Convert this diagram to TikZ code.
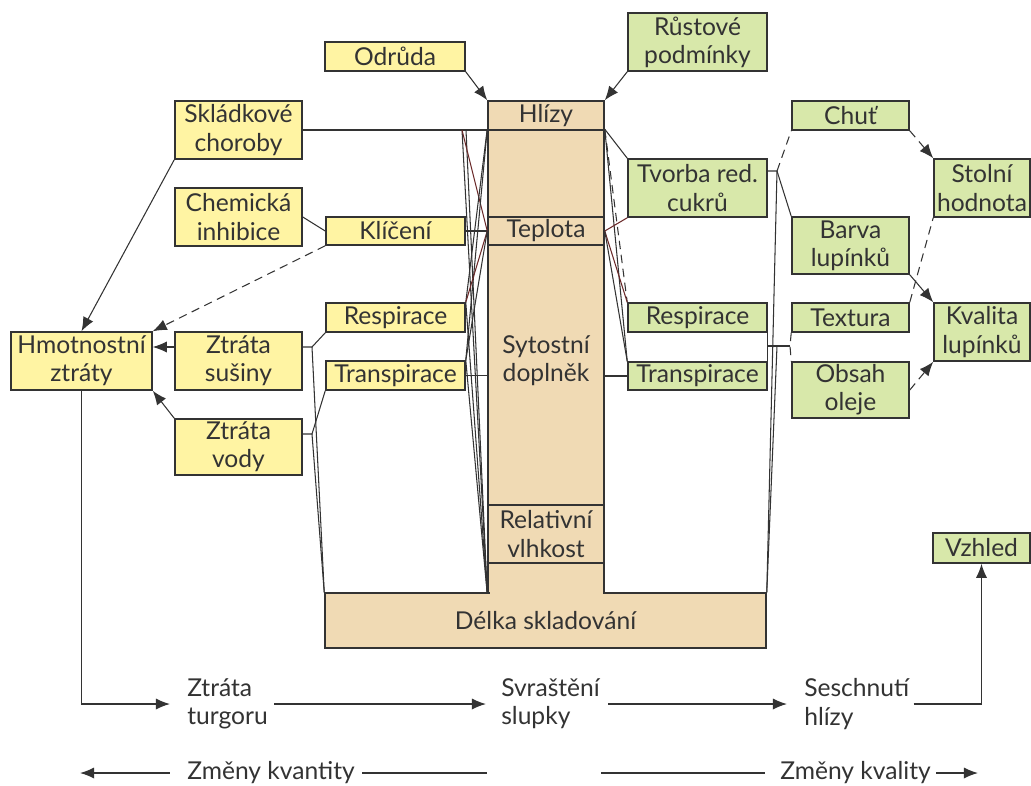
\documentclass[tikz,border=0pt]{standalone}
\usepackage{fontspec}
\setmainfont{Lato}
\usetikzlibrary{arrows.meta,positioning,calc}
\definecolor{zluta}{HTML}{FFF4A3}
\definecolor{zelena}{HTML}{D8E8AA}
\definecolor{hneda}{HTML}{F0DAB4}
\definecolor{okraj}{HTML}{333333}
\definecolor{cervena}{HTML}{6B2A2A}

\begin{document}
\begin{tikzpicture}[x=0.025cm,y=-0.025cm,
    every node/.style={font=\fontsize{17.5}{20}\selectfont,text=okraj},
    box/.style={draw=okraj,line width=1.1pt,inner sep=0pt,align=center},
    wh/.style 2 args={minimum width=#1*0.025cm,minimum height=#2*0.025cm},
    yel/.style={box,fill=zluta},
    zel/.style={box,fill=zelena},
    hn/.style={box,fill=hneda},
    spoj/.style={draw=okraj,line width=0.75pt},
    carky/.style={dash pattern=on 6pt off 4pt},
    sipka/.style={-{Latex[length=10pt,width=8pt]}},
    dolni/.style={draw=okraj,line width=1pt},
    popis/.style={anchor=west,align=left,inner sep=0pt}]
  \useasboundingbox (0,0) rectangle (1031,785);

  \node[hn,wh={116}{463}] (sloup) at (546,361.5) {};
  \node[hn,wh={441}{55}] (delka) at (545.5,620.5) {Délka skladování};
  \fill[hneda] (489.5,588) rectangle (602.5,598);
  \node[hn,wh={116}{29}] (hlizy) at (546,115.5) {Hlízy};
  \node[hn,wh={116}{28}] (teplota) at (546,231) {Teplota};
  \node[align=center] (sytost) at (546,361) {Sytostní\\doplněk};
  \node[hn,wh={116}{58}] (vlhkost) at (546,534) {Relativní\\vlhkost};

  \node[yel,wh={140}{29}] (odruda) at (395,56.5) {Odrůda};
  \node[zel,wh={139}{58}] (rustove) at (697.5,42) {Růstové\\podmínky};

  \node[yel,wh={127}{58}] (sklad) at (238.5,130) {Skládkové\\choroby};
  \node[yel,wh={127}{58}] (chem) at (238.5,217) {Chemická\\inhibice};
  \node[yel,wh={141}{58}] (hmot) at (81.5,361) {Hmotnostní\\ztráty};
  \node[yel,wh={127}{58}] (susina) at (238.5,361) {Ztráta\\sušiny};
  \node[yel,wh={127}{56}] (voda) at (238.5,447) {Ztráta\\vody};
  \node[yel,wh={139}{28}] (kliceni) at (395.5,231) {Klíčení};
  \node[yel,wh={139}{29}] (respL) at (395.5,317.5) {Respirace};
  \node[yel,wh={139}{29}] (transL) at (395.5,375.5) {Transpirace};

  \node[zel,wh={139}{58}] (tvorba) at (697.5,188) {Tvorba red.\\cukrů};
  \node[zel,wh={139}{29}] (respR) at (697.5,317.5) {Respirace};
  \node[zel,wh={139}{28}] (transR) at (697.5,376) {Transpirace};
  \node[zel,wh={117}{29}] (chut) at (850.5,115.5) {Chuť};
  \node[zel,wh={117}{57}] (barva) at (850.5,245.5) {Barva\\lupínků};
  \node[zel,wh={117}{29}] (textura) at (850.5,317.5) {Textura};
  \node[zel,wh={117}{56}] (obsah) at (850.5,390) {Obsah\\oleje};
  \node[zel,wh={96}{58}] (stolni) at (982,188) {Stolní\\hodnota};
  \node[zel,wh={96}{58}] (kvalita) at (982,332) {Kvalita\\lupínků};
  \node[zel,wh={97}{30}] (vzhled) at (981.5,548) {Vzhled};

  \node[popis] (turgor) at (187,704) {Ztráta\\turgoru};
  \node[popis] (svrast) at (501,704) {Svraštění\\slupky};
  \node[popis] (seschn) at (804,704) {Seschnutí\\hlízy};
  \node[popis] (kvant) at (187,773) {Změny kvantity};
  \node[popis] (kval) at (780,773) {Změny kvality};

  \coordinate (kz) at (462,130);
  \coordinate (js) at (312,347);
  \coordinate (jv) at (312,434);
  \coordinate (jt) at (777,171);
  \coordinate (jr) at (777,346);
  \coordinate (jd) at (790,346);
  \coordinate (kl) at (80,773);
  \coordinate (kr) at (487,773);
  \coordinate (ql) at (601,773);
  \coordinate (qr) at (978,773);

  \draw[spoj,sipka] (odruda.south east) -- (hlizy.north west);
  \draw[spoj,sipka] (rustove.south west) -- (hlizy.north east);

  \draw[spoj] (sklad.east) -- (sklad.east -| sloup.west);
  \draw[spoj,sipka] (sklad.south west) -- (hmot.north);
  \draw[spoj] (chem.east) -- (kliceni.west);
  \draw[spoj,carky,sipka] (kliceni.south west) -- (hmot.north east);
  \draw[spoj,sipka] ([yshift=0.35cm]susina.west) -- ([yshift=0.35cm]hmot.east);
  \draw[spoj,sipka] (voda.north west) -- (hmot.south east);
  \draw[spoj] ([yshift=0.35cm]susina.east) -- (js) -- (respL.south west);
  \draw[spoj] (js) -- (delka.north west);
  \draw[spoj] ([yshift=0.325cm]voda.east) -- (jv) -- (transL.south west);
  \draw[spoj] (jv) -- (delka.north west);

  \draw[spoj] (kz) -- (sloup.south west);
  \draw[spoj] ([xshift=0.1cm]kz) -- (sloup.south west);
  \draw[spoj,draw=cervena] (kz) -- (teplota.west);
  \draw[spoj] (sloup.north west) -- (respL.north east);
  \draw[spoj] (sloup.north west) -- (transL.north east);
  \draw[spoj] (kliceni.east) -- (teplota.west);
  \draw[spoj,draw=cervena] (teplota.west) -- (respL.north east);
  \draw[spoj] (teplota.west) -- (transL.north east);
  \draw[spoj] (respL.north east) -- (sloup.south west);
  \draw[spoj] (transL.north east) -- (sloup.south west);
  \draw[spoj] (transL.east) -- (transL.east -| sloup.west);

  \draw[spoj] (sloup.north east) -- (tvorba.north west);
  \draw[spoj,carky] (sloup.north east) -- (respR.north west);
  \draw[spoj] (sloup.north east) -- (transR.north west);
  \draw[spoj,draw=cervena] (teplota.east) -- (tvorba.south west);
  \draw[spoj,draw=cervena] (teplota.east) -- (respR.north west);
  \draw[spoj] (teplota.east) -- (transR.north west);
  \draw[spoj] (transR.west -| sloup.east) -- (transR.west);

  \draw[spoj] ([yshift=0.425cm]tvorba.east) -- (jt);
  \draw[spoj,carky] (jt) -- (chut.south west);
  \draw[spoj] (jt) -- (barva.north west);
  \draw[spoj] (jt) -- (delka.north east);
  \draw[spoj] (respR.south east) -- (transR.north east);
  \draw[spoj] (respR.south east |- jr) -- (jd);
  \draw[spoj,carky] (textura.south west) -- (jd) -- (obsah.north west);
  \draw[spoj] (jr) -- (delka.north east);

  \draw[spoj,carky,sipka] (chut.south east) -- (stolni.north west);
  \draw[spoj,carky] (textura.north east) -- (stolni.south west);
  \draw[spoj,sipka] (barva.south east) -- (kvalita.north west);
  \draw[spoj,carky,sipka] (obsah.east) -- (kvalita.south west);

  \draw[dolni,sipka,shorten >=0.425cm] (hmot.south) |- (turgor.west);
  \draw[dolni,sipka,shorten <=0.15cm,shorten >=0.375cm] (turgor.east) -- (svrast.west);
  \draw[dolni,sipka,shorten <=0.2cm,shorten >=0.425cm] (svrast.east) -- (seschn.west);
  \draw[dolni,sipka,shorten <=0.1cm] (seschn.east) -| (vzhled.south);

  \draw[dolni,sipka,shorten <=0.425cm] (kvant.west) -- (kl);
  \draw[dolni,shorten <=0.175cm] (kvant.east) -- (kr);
  \draw[dolni,shorten >=0.375cm] (ql) -- (kval.west);
  \draw[dolni,sipka,shorten <=0.125cm] (kval.east) -- (qr);
\end{tikzpicture}
\end{document}
